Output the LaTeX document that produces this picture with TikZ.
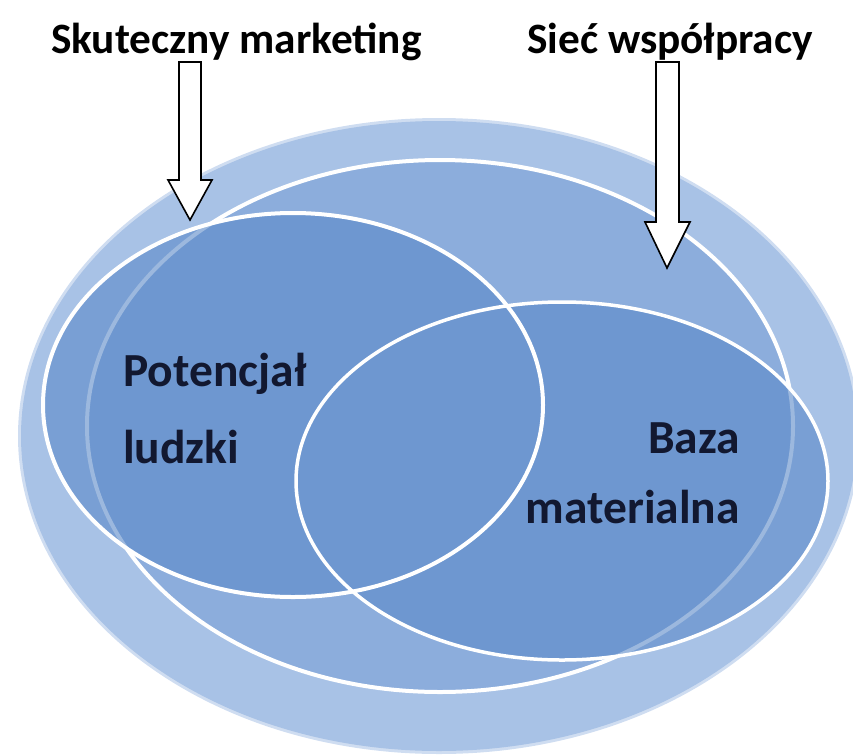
\documentclass[tikz,border=0pt]{standalone}
\usepackage{fontspec}
\setmainfont{Carlito}
\definecolor{outerblue}{RGB}{168,194,230}
\definecolor{midblue}{RGB}{140,173,220}
\definecolor{innerblue}{RGB}{90,137,200}
\definecolor{textdark}{RGB}{18,24,48}
\begin{document}
\begin{tikzpicture}[x=1pt,y=-1pt,
  title/.style={font=\fontsize{43.3}{50}\selectfont\bfseries, inner sep=0pt, text=black},
  lbl/.style={font=\fontsize{47.5}{52}\selectfont\bfseries, inner sep=0pt, text=textdark},
  ring/.style={draw=white, line width=4pt},
  blockarrow/.style={draw=black, fill=white, line width=1.6pt, line join=miter}]
\useasboundingbox (0,0) rectangle (853,755);
% outer light ellipse with a soft edge
\fill[outerblue!55] (439,436) ellipse [x radius=421pt, y radius=318pt];
\fill[outerblue] (439,436) ellipse [x radius=418pt, y radius=315pt];
% big ellipse
\fill[midblue] (440,426) ellipse [x radius=353pt, y radius=266pt];
\draw[ring] (440,426) ellipse [x radius=353pt, y radius=266pt];
% two inner ellipses (union filled once, semi transparent)
\fill[innerblue, fill opacity=0.6]
  (293,405) ellipse [x radius=250pt, y radius=192pt]
  (562,481) ellipse [x radius=266pt, y radius=179pt];
\draw[ring, line width=3.5pt] (562,481) ellipse [x radius=266pt, y radius=179pt];
\draw[ring] (293,405) ellipse [x radius=250pt, y radius=192pt];
% labels
\node[lbl, anchor=base west] (pot) at (123,386) {Potencjał};
\node[lbl, anchor=base west] (lud) at (123,463) {ludzki};
\node[lbl, anchor=base east] (baz) at (740,453) {Baza};
\node[lbl, anchor=base east] (mat) at (740,523) {materialna};
% titles
\node[title, anchor=base west] (t1) at (51,53) {Skuteczny marketing};
\node[title, anchor=base west] (t2) at (527,53) {Sieć współpracy};
% block arrows
\draw[blockarrow] (179,62) -- (201,62) -- (201,180) -- (212,180) -- (190,220) -- (168,180) -- (179,180) -- cycle;
\draw[blockarrow] (656,62) -- (679,62) -- (679,222) -- (690,222) -- (667,268) -- (645,222) -- (656,222) -- cycle;
\end{tikzpicture}
\end{document}
